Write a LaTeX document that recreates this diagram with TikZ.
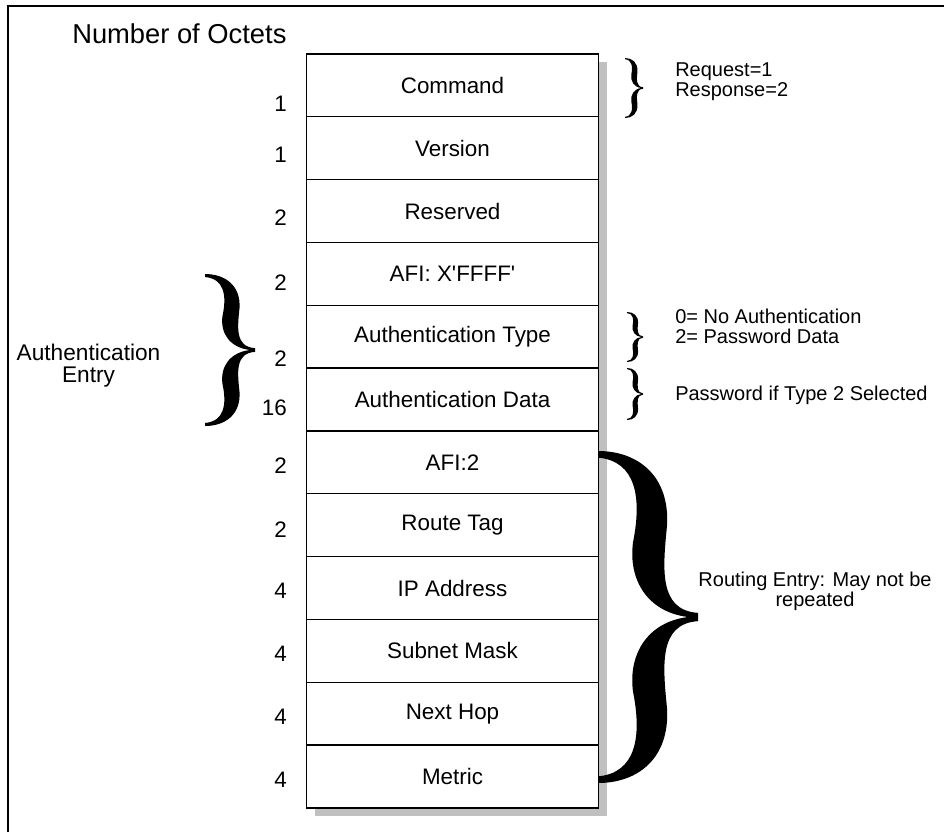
\documentclass[tikz,border=0pt]{standalone}
\usepackage{fontspec}
\setmainfont{Liberation Sans}
\usetikzlibrary{positioning,backgrounds}
\definecolor{shadowgray}{HTML}{C0C0C0}
\tikzset{
  field/.style={draw=black,line width=1pt,fill=white,minimum width=219pt,minimum height=47.12pt,inner sep=0pt,outer sep=0pt,font=\fontsize{16.8}{18}\selectfont},
  octets/.style={anchor=base east,inner sep=0pt,font=\fontsize{16.8}{18}\selectfont},
  note/.style={anchor=base west,inner sep=0pt,align=left,font=\fontsize{15}{15}\selectfont},
  entry/.style={anchor=base,inner sep=0pt,align=center}
}
% filled curly brace: x of the ends, y of the tip, width, half height
\newcommand{\octbrace}[4]{%
  \fill[shift={(#1,#2)},xscale=#3,yscale=#4]
    (0,1) .. controls (0.4,1) and (0.72,0.85) .. (0.69,0.55)
    .. controls (0.65,0.3) and (0.6,0.04) .. (1,0.025) -- (1,-0.025)
    .. controls (0.6,-0.04) and (0.65,-0.3) .. (0.69,-0.55)
    .. controls (0.72,-0.85) and (0.4,-1) .. (0,-1) -- (0,-0.96)
    .. controls (0.38,-0.94) and (0.44,-0.72) .. (0.35,-0.45)
    .. controls (0.3,-0.22) and (0.5,-0.03) .. (0.9,0)
    .. controls (0.5,0.03) and (0.3,0.22) .. (0.35,0.45)
    .. controls (0.44,0.72) and (0.38,0.94) .. (0,0.96) -- cycle;}

\begin{document}
\begin{tikzpicture}[x=0.75pt,y=-0.75pt]
  \useasboundingbox (0,0) rectangle (944,832);
  \draw[line width=1.2pt] (8,832) -- (8,6) -- (944,6);
  \node[anchor=base west,inner sep=0pt,font=\fontsize{20.5}{22}\selectfont] (title) at (72,43.3) {Number of Octets};
  % packet fields
  \node[field] (cmd) at (452.5,85.4) {Command};
  \node[field,below=0pt of cmd] (ver) {Version};
  \node[field,below=0pt of ver] (resv) {Reserved};
  \node[field,below=0pt of resv] (afiauth) {AFI: X\textquotesingle FFFF\textquotesingle};
  \node[field,below=0pt of afiauth] (authtype) {Authentication Type};
  \node[field,below=0pt of authtype] (authdata) {Authentication Data};
  \node[field,below=0pt of authdata] (afi) {AFI:2};
  \node[field,below=0pt of afi] (tag) {Route Tag};
  \node[field,below=0pt of tag] (ip) {IP Address};
  \node[field,below=0pt of ip] (mask) {Subnet Mask};
  \node[field,below=0pt of mask] (hop) {Next Hop};
  \node[field,below=0pt of hop] (metric) {Metric};
  \begin{scope}[on background layer]
    \fill[shadowgray] ([shift={(8,8)}]cmd.north west) rectangle ([shift={(8,8)}]metric.south east);
  \end{scope}
  % octet counts
  \foreach \yb/\n [count=\i] in {111.7/1,162/1,225/2,290/2,366/2,415/16,473/2,537/2,598/4,661/4,724/4,787/4}
    \node[octets] (oct\i) at (287,\yb) {\n};
  % braces and notes
  \octbrace{625}{88}{18}{30}
  \node[note] (cmdnote) at (675,96.7) {Request=1\\Response=2};
  \octbrace{627}{337}{16}{25}
  \node[note] (typenote) at (675,343) {0= No Authentication\\2= Password Data};
  \octbrace{627}{394}{16}{26}
  \node[note] (datanote) at (675,400) {Password if Type 2 Selected};
  \octbrace{205}{350}{50}{76}
  \node[entry,font=\fontsize{17}{16.5}\selectfont] (authentry) at (88.5,382) {Authentication\\Entry};
  \octbrace{598}{617}{100}{166}
  \node[entry,font=\fontsize{15}{15}\selectfont] (routeentry) at (815,606.7) {Routing Entry: May not be\\repeated};
\end{tikzpicture}
\end{document}
